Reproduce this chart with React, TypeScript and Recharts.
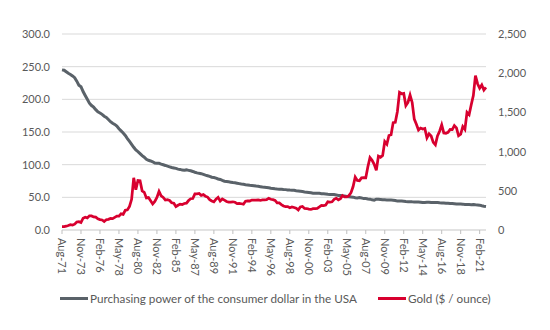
import React from "react";
import { LineChart, Line, XAxis, YAxis, CartesianGrid } from "recharts";

// one tick every 9 quarters, Aug-71 .. Feb-21
const TICK_LABELS = [
  "Aug-71", "Nov-73", "Feb-76", "May-78", "Aug-80", "Nov-82", "Feb-85", "May-87",
  "Aug-89", "Nov-91", "Feb-94", "May-96", "Aug-98", "Nov-00", "Feb-03", "May-05",
  "Aug-07", "Nov-09", "Feb-12", "May-14", "Aug-16", "Nov-18", "Feb-21",
];

// quarterly readings (Feb / May / Aug / Nov), Aug-71 .. Nov-21
const DOLLAR = [
  245.1, 244.5,
  242.1, 239.8, 238.1, 235.8,
  233.1, 227.8, 221.7, 219.3,
  211.9, 205.8, 200.0, 194.2,
  190.5, 188.0, 184.2, 180.8,
  179.2, 177.0, 174.2, 172.4,
  169.2, 165.8, 163.4, 161.6,
  159.0, 155.0, 151.7, 148.4,
  144.7, 139.9, 135.5, 131.2,
  126.6, 122.4, 120.0, 117.0,
  113.8, 111.4, 108.3, 106.7,
  105.7, 104.4, 102.4, 102.0,
  102.1, 100.8, 99.8, 98.8,
  97.7, 96.7, 95.7, 95.0,
  94.3, 93.2, 92.7, 91.7,
  91.5, 92.0, 91.3, 90.6,
  89.6, 88.4, 87.4, 86.7,
  86.2, 85.1, 84.0, 83.1,
  82.2, 80.8, 80.3, 79.4,
  78.1, 77.4, 76.0, 74.7,
  74.2, 73.7, 73.2, 72.6,
  72.2, 71.6, 71.0, 70.4,
  69.9, 69.3, 69.0, 68.5,
  68.2, 67.8, 67.2, 66.8,
  66.3, 65.7, 65.4, 65.1,
  64.6, 63.9, 63.6, 63.1,
  62.7, 62.5, 62.2, 61.9,
  61.8, 61.4, 61.1, 61.0,
  60.7, 60.0, 59.8, 59.4,
  58.9, 58.3, 57.9, 57.4,
  56.9, 56.3, 56.3, 56.4,
  56.2, 55.6, 55.4, 55.2,
  54.6, 54.5, 54.2, 54.2,
  53.7, 52.9, 52.8, 52.4,
  52.1, 51.4, 50.9, 50.6,
  50.3, 49.4, 49.0, 49.6,
  49.1, 48.1, 48.1, 47.6,
  47.2, 46.2, 45.6, 47.1,
  47.1, 46.8, 46.3, 46.2,
  46.1, 45.8, 45.8, 45.7,
  45.2, 44.2, 44.2, 44.2,
  43.9, 43.5, 43.4, 43.4,
  43.1, 42.9, 42.8, 42.9,
  42.6, 42.0, 42.0, 42.3,
  42.6, 42.1, 42.0, 42.1,
  42.2, 41.6, 41.5, 41.4,
  41.1, 40.9, 40.7, 40.5,
  40.2, 39.7, 39.7, 39.7,
  39.6, 39.0, 39.0, 38.9,
  38.7, 39.0, 38.5, 38.4,
  38.0, 37.1, 36.5, 36.0,
];

const GOLD = [
  42.7, 42.9,
  48.3, 56.6, 67.0, 63.0,
  74.2, 102.0, 106.8, 94.8,
  150.2, 163.0, 154.0, 181.0,
  179.6, 167.0, 164.0, 142.6,
  132.3, 128.0, 109.3, 130.3,
  136.4, 146.6, 145.0, 161.1,
  178.0, 176.0, 206.0, 200.0,
  251.3, 257.0, 301.0, 391.0,
  665, 513, 631, 629,
  499, 480, 409, 414,
  374, 333, 364, 415,
  492, 437, 416, 382,
  386, 377, 348, 341,
  299, 316, 330, 325,
  338, 342, 376, 399,
  401, 460, 461, 467,
  442, 451, 431, 420,
  388, 371, 360, 393,
  417, 369, 395, 381,
  364, 357, 356, 360,
  354, 337, 340, 335,
  329, 367, 372, 370,
  382, 381, 380, 384,
  377, 385, 383, 386,
  405, 392, 387, 378,
  346, 345, 324, 306,
  297, 299, 284, 294,
  287, 277, 256, 293,
  300, 275, 274, 266,
  262, 272, 273, 276,
  294, 313, 310, 319,
  359, 355, 360, 392,
  405, 384, 400, 439,
  423, 422, 438, 476,
  554, 676, 633, 629,
  665, 667, 665, 806,
  922, 888, 839, 760,
  943, 928, 949, 1128,
  1095, 1205, 1215, 1370,
  1374, 1512, 1756, 1738,
  1742, 1586, 1627, 1721,
  1627, 1414, 1348, 1275,
  1300, 1288, 1296, 1176,
  1227, 1199, 1117, 1086,
  1200, 1260, 1341, 1238,
  1234, 1246, 1283, 1280,
  1331, 1303, 1202, 1221,
  1320, 1284, 1500, 1471,
  1597, 1715, 1968, 1866,
  1808, 1850, 1785, 1820,
];

const LEFT_TICKS = [0, 50, 100, 150, 200, 250, 300];
const RIGHT_TICKS = [0, 500, 1000, 1500, 2000, 2500];

const FONT = "Lato, 'Open Sans', sans-serif";
const TEXT = "#595959";
const GREY = "#5a6269";
const RED = "#d8002f";

const chartData = DOLLAR.map((v, i) => ({ i, dollar: v, gold: GOLD[i] }));
const xTicks = TICK_LABELS.map((_, k) => k * 9);

const XTick = ({ x, y, payload }: any) => {
  const label = TICK_LABELS[Math.round(payload.value / 9)];
  return (
    <g transform={`translate(${x},${y})`}>
      <text transform="rotate(90)" textAnchor="start" dy="0.35em" fill={TEXT} fontSize={11} fontFamily={FONT}>
        {label}
      </text>
    </g>
  );
};

const LegendItem = ({ left, color, label }: { left: number; color: string; label: string }) => (
  <div style={{ position: "absolute", left, top: 290, display: "flex", alignItems: "center", height: 16 }}>
    <div style={{ width: 28, height: 3, background: color, marginRight: 2 }} />
    <span style={{ fontSize: 11.7, color: TEXT, whiteSpace: "nowrap" }}>{label}</span>
  </div>
);

export default function App() {
  const tickStyle = { fill: TEXT, fontSize: 11, fontFamily: FONT };
  return (
    <div style={{ position: "absolute", left: 0, top: 0, width: 550, height: 330, background: "#fff", fontFamily: FONT }}>
      <LineChart width={550} height={330} data={chartData} margin={{ top: 34, right: 0, left: 0, bottom: 40 }}>
        <CartesianGrid yAxisId="left" vertical={false} stroke="#d9d9d9" />
        <XAxis
          dataKey="i"
          type="number"
          domain={[0, 201]}
          ticks={xTicks}
          interval={0}
          height={60}
          tickSize={4}
          tickMargin={4}
          axisLine={{ stroke: "#d9d9d9" }}
          tickLine={{ stroke: "#bfbfbf" }}
          tick={<XTick />}
        />
        <YAxis
          yAxisId="left"
          width={62}
          domain={[0, 300]}
          ticks={LEFT_TICKS}
          axisLine={false}
          tickLine={false}
          tickSize={6}
          tickMargin={6}
          tick={tickStyle}
          tickFormatter={(v: number) => v.toFixed(1)}
        />
        <YAxis
          yAxisId="right"
          orientation="right"
          width={64}
          domain={[0, 2500]}
          ticks={RIGHT_TICKS}
          axisLine={false}
          tickLine={false}
          tickSize={6}
          tickMargin={6}
          tick={tickStyle}
          tickFormatter={(v: number) => v.toLocaleString("en-US")}
        />
        <Line yAxisId="left" type="linear" dataKey="dollar" stroke={GREY} strokeWidth={3} dot={false} isAnimationActive={false} />
        <Line yAxisId="right" type="linear" dataKey="gold" stroke={RED} strokeWidth={2.75} dot={false} isAnimationActive={false} />
      </LineChart>
      <LegendItem left={60} color={GREY} label="Purchasing power of the consumer dollar in the USA" />
      <LegendItem left={378} color={RED} label="Gold ($ / ounce)" />
    </div>
  );
}
